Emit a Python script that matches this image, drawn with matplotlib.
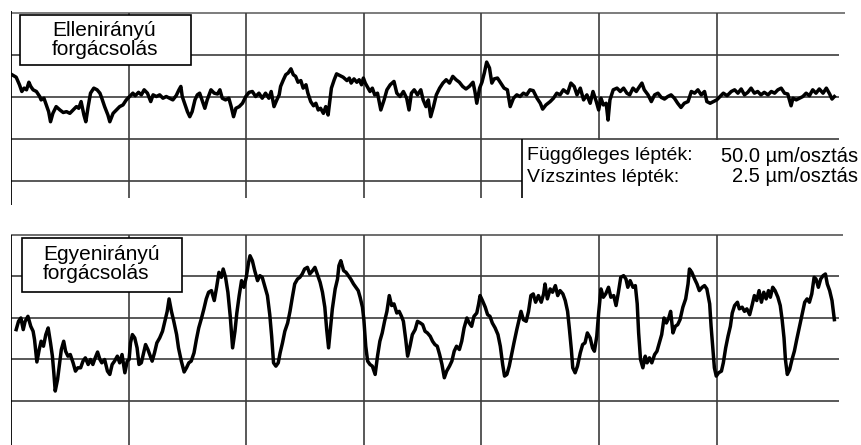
import matplotlib.pyplot as plt
from matplotlib.patches import Rectangle

plt.rcParams['font.family'] = ['Liberation Sans', 'DejaVu Sans']

# Profilok: x = hossz (2.5 egység / osztás), y = eltérés µm-ben (50 µm / osztás)
ellen_x = [0.02, 0.11, 0.18, 0.23, 0.28, 0.33, 0.38, 0.42, 0.47, 0.54,
           0.61, 0.64, 0.70, 0.75, 0.80, 0.84, 0.89, 0.96, 1.04, 1.11,
           1.18, 1.25, 1.32, 1.39, 1.44, 1.49, 1.55, 1.59, 1.64, 1.69,
           1.76, 1.83, 1.89, 1.93, 1.99, 2.06, 2.10, 2.17, 2.24, 2.31,
           2.38, 2.45, 2.52, 2.59, 2.64, 2.71, 2.77, 2.83, 2.90, 2.97,
           3.02, 3.09, 3.16, 3.23, 3.30, 3.37, 3.44, 3.51, 3.57, 3.61,
           3.64, 3.69, 3.75, 3.80, 3.85, 3.91, 3.96, 4.01, 4.06, 4.12,
           4.17, 4.25, 4.32, 4.39, 4.44, 4.49, 4.56, 4.63, 4.68, 4.73,
           4.78, 4.85, 4.92, 4.99, 5.06, 5.13, 5.20, 5.27, 5.34, 5.41,
           5.48, 5.53, 5.59, 5.65, 5.70, 5.73, 5.79, 5.84, 5.89, 5.95,
           6.00, 6.05, 6.10, 6.16, 6.21, 6.27, 6.31, 6.37, 6.43, 6.48,
           6.53, 6.58, 6.64, 6.69, 6.74, 6.78, 6.81, 6.87, 6.92, 6.99,
           7.06, 7.14, 7.19, 7.23, 7.29, 7.35, 7.40, 7.45, 7.49, 7.53,
           7.57, 7.63, 7.68, 7.73, 7.79, 7.86, 7.93, 7.99, 8.06, 8.14,
           8.20, 8.27, 8.34, 8.41, 8.46, 8.51, 8.57, 8.64, 8.71, 8.76,
           8.82, 8.87, 8.92, 8.98, 9.04, 9.11, 9.18, 9.25, 9.32, 9.39,
           9.46, 9.53, 9.60, 9.67, 9.74, 9.82, 9.86, 9.90, 9.96, 10.01,
           10.06, 10.11, 10.17, 10.22, 10.27, 10.34, 10.41, 10.48, 10.55, 10.61,
           10.68, 10.75, 10.82, 10.89, 10.96, 11.03, 11.10, 11.18, 11.25, 11.30,
           11.37, 11.46, 11.53, 11.60, 11.67, 11.74, 11.83, 11.90, 11.97, 12.03,
           12.10, 12.17, 12.24, 12.31, 12.37, 12.44, 12.49, 12.54, 12.59, 12.65,
           12.69, 12.73, 12.80, 12.88, 12.95, 13.02, 13.09, 13.15, 13.22, 13.29,
           13.36, 13.41, 13.46, 13.54, 13.61, 13.68, 13.75, 13.82, 13.89, 13.96,
           14.03, 14.10, 14.17, 14.24, 14.31, 14.39, 14.46, 14.53, 14.60, 14.67,
           14.74, 14.79, 14.86, 14.93, 15.00, 15.07, 15.14, 15.22, 15.31, 15.38,
           15.45, 15.52, 15.59, 15.66, 15.73, 15.80, 15.87, 15.94, 16.01, 16.09,
           16.16, 16.23, 16.30, 16.37, 16.44, 16.51, 16.58, 16.62, 16.69, 16.76,
           16.83, 16.90, 16.97, 17.04, 17.11, 17.18, 17.26, 17.33, 17.40, 17.45,
           17.50]
ellen_y = [26, 23, 14, 6, 10, 8, 17, 12, 8, 6,
           0, -4, -2, -10, -18, -30, -20, -12, -16, -19,
           -18, -20, -16, -12, -14, -6, -22, -30, -12, 4,
           10, 8, 4, -2, -12, -22, -30, -20, -16, -12,
           -10, -4, 0, 4, 1, 5, 2, 8, 4, -6,
           2, 0, 2, -2, 0, -2, -4, 1, 8, 12,
           0, -8, -18, -24, -18, -4, 2, 4, -4, -14,
           -4, 8, 4, 3, 8, -2, -4, -2, -12, -24,
           -14, -12, -8, 0, 5, 6, 0, 4, -2, 4,
           -2, 6, -12, -4, 2, 12, 20, 26, 28, 33,
           26, 24, 17, 19, 10, 14, 4, -6, -11, -8,
           -16, -14, -20, -12, -22, -4, 10, 20, 27, 25,
           23, 19, 22, 16, 21, 17, 20, 14, 22, 16,
           12, 6, 10, 2, 4, -16, -4, 8, 14, 18,
           4, 0, 6, -2, -16, 4, 8, 2, 8, -4,
           -12, -4, -24, -12, 2, 10, 16, 20, 16, 24,
           20, 17, 12, 9, 12, 17, 6, -8, 10, 17,
           28, 41, 34, 16, 21, 22, 16, 10, 8, -12,
           -2, 2, 0, 4, 2, 8, 7, -2, -8, -15,
           -10, -6, -2, 4, 2, 8, 4, 16, 12, 2,
           10, -4, 2, -8, 6, -6, -16, -2, -10, -8,
           -28, -4, 8, 10, 6, 10, 4, 2, 10, 6,
           12, 16, 8, 2, -6, 2, 4, -1, -3, 0,
           2, -2, -8, -13, -8, -6, 6, 4, 8, 2,
           6, -6, -8, -6, -4, 0, 4, 1, 6, 8,
           4, 9, 2, 5, 10, 4, 6, 2, 5, 2,
           6, 4, 8, 10, 4, 3, -11, -2, -4, -2,
           0, 4, 1, 8, 4, 9, 4, 10, 3, -3,
           0]

egyen_x = [0.11, 0.16, 0.21, 0.26, 0.30, 0.36, 0.42, 0.47, 0.50, 0.55,
           0.60, 0.64, 0.69, 0.74, 0.79, 0.84, 0.88, 0.91, 0.94, 0.99,
           1.03, 1.07, 1.12, 1.16, 1.21, 1.26, 1.32, 1.37, 1.42, 1.48,
           1.53, 1.58, 1.64, 1.69, 1.74, 1.79, 1.84, 1.89, 1.93, 1.99,
           2.05, 2.10, 2.15, 2.20, 2.26, 2.31, 2.36, 2.42, 2.47, 2.51,
           2.54, 2.58, 2.63, 2.68, 2.72, 2.77, 2.82, 2.86, 2.91, 2.96,
           3.00, 3.05, 3.10, 3.16, 3.22, 3.27, 3.32, 3.36, 3.41, 3.46,
           3.52, 3.56, 3.62, 3.68, 3.73, 3.78, 3.83, 3.89, 3.94, 3.99,
           4.05, 4.10, 4.15, 4.20, 4.26,
           4.32, 4.37, 4.42, 4.47, 4.51, 4.56, 4.61, 4.66, 4.71, 4.76,
           4.80, 4.85, 4.90, 4.95, 5.00, 5.05, 5.08, 5.13, 5.18, 5.24,
           5.29, 5.34, 5.39, 5.45, 5.50, 5.54, 5.58, 5.63, 5.68, 5.72,
           5.77, 5.82, 5.88, 5.93, 5.98, 6.03, 6.09, 6.14, 6.19, 6.24,
           6.30, 6.35, 6.41, 6.46, 6.51, 6.57, 6.62, 6.67, 6.71, 6.75,
           6.78, 6.83, 6.89, 6.94, 6.97, 7.01, 7.07, 7.12, 7.17, 7.22,
           7.28, 7.33, 7.38, 7.42, 7.47, 7.50, 7.54, 7.58, 7.63, 7.68,
           7.74, 7.79, 7.84, 7.89, 7.94, 7.99, 8.04, 8.09, 8.14, 8.20,
           8.25, 8.30, 8.34, 8.39, 8.43, 8.48, 8.53, 8.59, 8.64, 8.70,
           8.75,
           8.80, 8.85, 8.91, 8.96, 9.01, 9.06, 9.11, 9.16, 9.21, 9.26,
           9.32, 9.37, 9.42, 9.47, 9.53, 9.58, 9.63, 9.69, 9.74, 9.79,
           9.84, 9.90, 9.94, 9.97, 10.02, 10.08, 10.13, 10.18, 10.23, 10.29,
           10.35, 10.40, 10.45, 10.49, 10.54, 10.59, 10.64, 10.69, 10.75, 10.80,
           10.84, 10.89, 10.95, 11.00, 11.05, 11.10, 11.15, 11.21, 11.27, 11.32,
           11.35, 11.40, 11.46, 11.51, 11.57, 11.62, 11.67, 11.73, 11.78, 11.83,
           11.87, 11.91, 11.94, 11.99, 12.04, 12.10, 12.15, 12.20, 12.25, 12.31,
           12.36, 12.40, 12.45, 12.49, 12.54, 12.59, 12.64, 12.70, 12.75, 12.81,
           12.86, 12.91, 12.96, 13.02, 13.07,
           13.11, 13.16, 13.22, 13.27, 13.31, 13.34, 13.38, 13.43, 13.48, 13.52,
           13.57, 13.62, 13.68, 13.73, 13.78, 13.83, 13.88, 13.93, 13.98, 14.02,
           14.07, 14.12, 14.17, 14.22, 14.28, 14.34, 14.39, 14.42, 14.47, 14.53,
           14.58, 14.63, 14.69, 14.74, 14.79, 14.85, 14.88, 14.92, 14.95, 14.99,
           15.04, 15.10, 15.14, 15.19, 15.24, 15.29, 15.33, 15.38, 15.44, 15.48,
           15.54, 15.59, 15.64, 15.70, 15.75, 15.80, 15.85, 15.90, 15.95, 16.00,
           16.05, 16.10, 16.14, 16.19, 16.24, 16.30, 16.35, 16.39, 16.43, 16.46,
           16.50, 16.55, 16.60, 16.65, 16.70, 16.76, 16.82, 16.87, 16.92, 16.97,
           17.02, 17.07, 17.11, 17.16, 17.21, 17.26, 17.31, 17.35, 17.40, 17.45,
           17.50]
egyen_y = [-14, -4, 0, -14, -4, 2, -10, -16, -26, -53,
           -38, -28, -34, -20, -12, -30, -46, -66, -88, -74,
           -56, -38, -28, -40, -46, -44, -54, -64, -60, -60,
           -52, -48, -56, -50, -56, -48, -41, -50, -54, -50,
           -64, -68, -56, -52, -46, -54, -44, -66, -52, -50,
           -30, -20, -24, -36, -56, -54, -42, -32, -38, -46,
           -52, -42, -30, -24, -16, -4, 8, 23, 8, -4,
           -20, -36, -52, -65, -60, -54, -52, -42, -26, -12,
           0, 11, 23, 31, 33,
           21, 37, 55, 49, 59, 49, 31, 2, -36, -16,
           6, 27, 45, 37, 49, 67, 75, 69, 57, 45,
           51, 49, 39, 27, 4, -22, -54, -58, -54, -42,
           -30, -16, -6, 8, 25, 41, 47, 49, 53, 59,
           61, 53, 57, 61, 53, 43, 31, 13, -14, -36,
           -18, 11, 35, 47, 63, 69, 57, 55, 51, 47,
           41, 37, 33, 25, 13, -2, -34, -52, -56, -58,
           -68, -46, -28, -18, -4, 8, 27, 15, 17, 6,
           8, 2, -4, -26, -46, -34, -20, -14, -4, -6,
           -8,
           -16, -18, -22, -28, -32, -34, -44, -56, -72, -64,
           -58, -52, -40, -34, -38, -28, -12, 0, -6, -10,
           2, 6, 17, 27, 21, 13, 4, 2, -6, -12,
           -20, -34, -56, -70, -68, -58, -44, -30, -14, -2,
           8, -2, -4, 8, 27, 29, 19, 27, 19, 29,
           41, 23, 35, 31, 39, 27, 33, 29, 21, 8,
           -14, -38, -60, -66, -58, -42, -32, -30, -18, -24,
           -36, -40, -22, 6, 35, 25, 29, 37, 25, 27,
           15, 31, 49, 51, 47,
           37, 45, 37, 39, 17, -18, -50, -60, -46, -54,
           -48, -54, -44, -40, -30, -20, 0, -6, 0, 8,
           -18, -10, -8, -2, 13, 23, 41, 59, 55, 47,
           41, 33, 37, 39, 35, 17, -10, -38, -60, -70,
           -66, -64, -54, -36, -22, -10, 6, 15, 19, 11,
           13, 8, 11, 4, 15, 27, 21, 33, 19, 31,
           23, 33, 25, 37, 33, 25, 15, -2, -24, -50,
           -68, -62, -50, -40, -26, -10, 6, 19, 23, 19,
           29, 49, 47, 37, 47, 51, 53, 41, 33, 21,
           -2]

cimkek = ["Ellenirányú\nforgácsolás", "Egyenirányú\nforgácsolás"]
lepték_nev = ["Függőleges lépték:", "Vízszintes lépték:"]
lepték_ertek = ["50.0 µm/osztás", "2.5 µm/osztás"]

racs_x = [2.5, 5.0, 7.5, 10.0, 12.5, 15.0]
racs_y = [100, 50, 0, -50, -100]

W, H = 862, 445
fig = plt.figure(figsize=(W / 100, H / 100), dpi=100)
GRID = '#3c3c3c'


def px_axes(left, top, right, bottom):
    ax = fig.add_axes([left / W, 1 - bottom / H, (right - left) / W, (bottom - top) / H])
    ax.set_axis_off()
    return ax


def px_box(x0, y0, x1, y1):
    fig.patches.append(Rectangle((x0 / W, 1 - y1 / H), (x1 - x0) / W, (y1 - y0) / H,
                                 transform=fig.transFigure, fc='white', ec='black',
                                 lw=1.2, zorder=5))


XMAX = 17.79

# felső: ellenirányú
ax1 = px_axes(11, 10, 848, 206)
ax1.set_xlim(0, XMAX)
ax1.set_ylim(-130.3, 103)
ax1.hlines(racs_y[1:], 0, 17.6, color=GRID, lw=1.2)
ax1.hlines(racs_y[0], 0, 17.72, color='#666666', lw=1.2)
ax1.vlines(racs_x, -121, 100, color=GRID, lw=1.2)
ax1.vlines(0, -129, 102, color='black', lw=1.3)
ax1.add_patch(Rectangle((10.86, -131), 8, 79.2, fc='white', ec='none', zorder=3))
ax1.vlines(10.86, -121, -50, color='black', lw=1.2, zorder=4)
ax1.plot(ellen_x, ellen_y, color='black', lw=2.5, solid_joinstyle='round', zorder=4)

# alsó: egyenirányú
ax2 = px_axes(11, 230, 848, 445)
ax2.set_xlim(0, XMAX)
ax2.set_ylim(-153, 106)
ax2.hlines(racs_y[1:], 0, 17.6, color=GRID, lw=1.2)
ax2.hlines(racs_y[0], 0, 17.68, color='#555555', lw=1.2)
ax2.vlines(racs_x, -153, 100, color=GRID, lw=1.2)
ax2.vlines(0, -153, 100, color='black', lw=1.3)
ax2.plot(egyen_x, egyen_y, color='black', lw=2.5, solid_joinstyle='round', zorder=4)

# címke dobozok
px_box(20, 15, 191, 65)
px_box(22, 238, 182, 292)
fig.text(52 / W, 1 - 40 / H, cimkek[0], ha='left', va='center', fontsize=15,
         linespacing=1.05, zorder=6)
fig.text(43 / W, 1 - 264 / H, cimkek[1], ha='left', va='center', fontsize=15,
         linespacing=1.05, zorder=6)

# léptékek
for i, (nev, ertek) in enumerate(zip(lepték_nev, lepték_ertek)):
    yy = 1 - (156 + 21 * i) / H
    fig.text(527 / W, yy, nev, ha='left', va='center', fontsize=14, zorder=6)
    fig.text(858 / W, yy, ertek, ha='right', va='center', fontsize=14.5, zorder=6)

fig.savefig('out.png', dpi=100, facecolor='white')
